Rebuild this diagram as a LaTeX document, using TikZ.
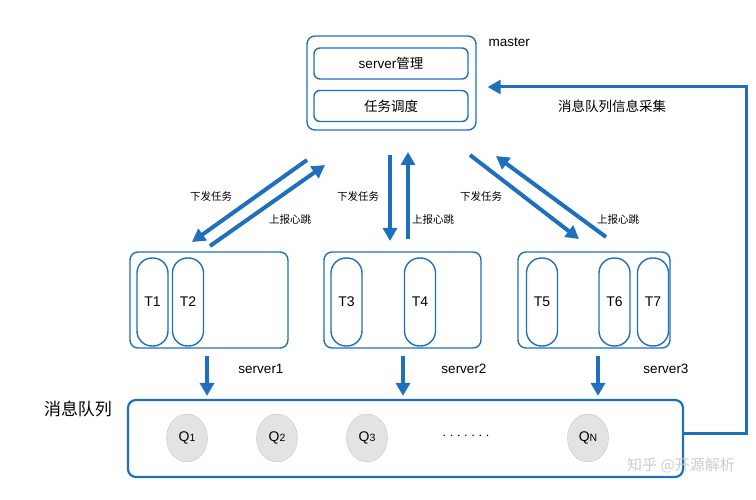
\documentclass[tikz,border=0pt]{standalone}
\usepackage{fontspec}
\setmainfont{Liberation Sans}
\newfontfamily\cjk{Noto Sans CJK SC}
\usetikzlibrary{arrows.meta,positioning,calc,shapes.geometric}
\definecolor{mqblue}{HTML}{1F6FBF}
\newcommand{\qsub}[1]{{\fontsize{10.5}{12}\selectfont #1}}
\tikzset{
  box/.style={draw=mqblue, line width=1.4pt, rounded corners=8pt},
  subbox/.style={box, rounded corners=6pt, minimum width=154pt, minimum height=31pt,
                 font=\fontsize{13.5}{15}\selectfont},
  task/.style={draw=mqblue, line width=1.4pt, rounded corners=15pt, inner sep=0pt,
               minimum width=31pt, minimum height=88pt, font=\fontsize{14}{16}\selectfont},
  qnode/.style={ellipse, draw=gray!45, fill=gray!22, minimum width=41pt, minimum height=48pt,
                inner sep=0pt, font=\fontsize{14}{16}\selectfont},
  flow/.style={draw=mqblue, line width=4pt, -{Triangle[length=13pt,width=14pt]}},
  lbl/.style={font=\cjk\fontsize{10.5}{12}\selectfont},
  txt/.style={font=\fontsize{13.5}{15}\selectfont}
}

\begin{document}
\begin{tikzpicture}[x=1pt, y=-1pt]
\useasboundingbox (0,0) rectangle (756,500);

% master
\node[box, minimum width=169pt, minimum height=94pt] (master) at (391.5,83) {};
\node[subbox] (mgmt) at (391,63.5) {server{\cjk 管理}};
\node[subbox] (sched) at (391,106) {{\cjk 任务调度}};
\node[txt, anchor=west] (masterlbl) at (485,42) {master};

% servers
\node[box, minimum width=158pt, minimum height=96pt] (s1) at (209,300) {};
\node[box, minimum width=157pt, minimum height=96pt] (s2) at (402.5,300) {};
\node[box, minimum width=152pt, minimum height=96pt] (s3) at (594,300) {};
\node[task] (t1) at (152.5,302) {T1};
\node[task] (t2) at (188,302) {T2};
\node[task] (t3) at (346.5,302) {T3};
\node[task] (t4) at (420,302) {T4};
\node[task] (t5) at (542,302) {T5};
\node[task] (t6) at (614.5,302) {T6};
\node[task] (t7) at (653,302) {T7};
\node[txt] (s1lbl) at (261,369) {server1};
\node[txt] (s2lbl) at (464,369) {server2};
\node[txt] (s3lbl) at (666,369) {server3};

% message queue
\node[box, line width=2.2pt, minimum width=555pt, minimum height=77pt] (mq) at (405.5,438.5) {};
\node[font=\cjk\fontsize{17}{19}\selectfont] (mqlbl) at (78,409) {消息队列};
\node[qnode] (q1) at (187,438) {Q\qsub{1}};
\node[qnode] (q2) at (277,438) {Q\qsub{2}};
\node[qnode] (q3) at (367,438) {Q\qsub{3}};
\node[txt] (qdots) at (466,436) {$\cdot\cdot\cdot\cdot\cdot\cdot\cdot$};
\node[qnode] (qn) at (588,438) {Q\qsub{N}};

% master <-> servers
\coordinate (a1) at (307,160); \coordinate (b1) at (192,242);
\coordinate (c1) at (210,246); \coordinate (d1) at (325,165);
\coordinate (a2) at (390,155); \coordinate (b2) at (390,241);
\coordinate (c2) at (408,239); \coordinate (d2) at (408,152);
\coordinate (a3) at (470,155); \coordinate (b3) at (579,239);
\coordinate (c3) at (606,237); \coordinate (d3) at (496,156);
\draw[flow] (a1) -- (b1);
\draw[flow] (c1) -- (d1);
\draw[flow] (a2) -- (b2);
\draw[flow] (c2) -- (d2);
\draw[flow] (a3) -- (b3);
\draw[flow] (c3) -- (d3);
\node[lbl] (send1) at (211,197) {下发任务};
\node[lbl] (beat1) at (290,220) {上报心跳};
\node[lbl] (send2) at (358,197) {下发任务};
\node[lbl] (beat2) at (433,220) {上报心跳};
\node[lbl] (send3) at (481,197) {下发任务};
\node[lbl] (beat3) at (618,220) {上报心跳};

% servers -> queue
\draw[flow, line width=3.5pt, shorten <=7pt, shorten >=3pt] (s1.south -| 207,0) -- (mq.north -| 207,0);
\draw[flow, line width=3.5pt, shorten <=7pt, shorten >=3pt] (s2.south -| 403,0) -- (mq.north -| 403,0);
\draw[flow, line width=3.5pt, shorten <=7pt, shorten >=3pt] (s3.south -| 598,0) -- (mq.north -| 598,0);

% feedback
\draw[flow, line width=3pt, shorten >=11pt] ([yshift=5pt]mq.east) -- ++(62,0) |- ([yshift=-4pt]master.east);
\node[lbl, font=\cjk\fontsize{13.5}{15}\selectfont] (collect) at (612,106) {消息队列信息采集};

\node[font=\cjk\fontsize{15}{17}\selectfont, text=gray!40] (mark) at (681,465) {知乎 @开源解析};
\end{tikzpicture}
\end{document}
